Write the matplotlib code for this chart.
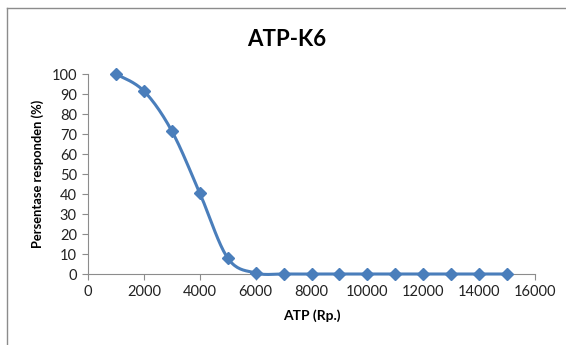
import numpy as np
import matplotlib.pyplot as plt
from matplotlib.lines import Line2D

plt.rcParams['font.family'] = ['Lato', 'DejaVu Sans']

# data
atp = [1000, 2000, 3000, 4000, 5000, 6000, 7000, 8000,
       9000, 10000, 11000, 12000, 13000, 14000, 15000]
persen = [100, 91.5, 71.5, 40.5, 8, 0.5, 0, 0, 0, 0, 0, 0, 0, 0, 0]
xticks = list(range(0, 16001, 2000))
yticks = list(range(0, 101, 10))

blue = '#4a7ebb'
grey = '#8c8c8c'


def smooth(x, y, n=20):
    # Excel-style smoothed line (Catmull-Rom)
    x = np.asarray(x, float)
    y = np.asarray(y, float)
    px = np.concatenate([[x[0]], x, [x[-1]]])
    py = np.concatenate([[y[0]], y, [y[-1]]])
    xs, ys = [], []
    t = np.linspace(0, 1, n, endpoint=False)
    for i in range(1, len(px) - 2):
        p0, p1, p2, p3 = [np.array([px[j], py[j]]) for j in (i - 1, i, i + 1, i + 2)]
        for tt in t:
            pt = 0.5 * ((2 * p1) + (-p0 + p2) * tt
                        + (2 * p0 - 5 * p1 + 4 * p2 - p3) * tt ** 2
                        + (-p0 + 3 * p1 - 3 * p2 + p3) * tt ** 3)
            xs.append(pt[0])
            ys.append(pt[1])
    xs.append(x[-1])
    ys.append(y[-1])
    return xs, ys


fig = plt.figure(figsize=(5.66, 3.45), dpi=100)
ax = fig.add_axes([88 / 566, 1 - 274 / 345, (535 - 88) / 566, (274 - 74) / 345])

sx, sy = smooth(atp, persen)
ax.plot(sx, sy, color=blue, lw=2.2, zorder=3, clip_on=False)
ax.plot(atp, persen, linestyle='none', marker='D', ms=6.5, color=blue,
        zorder=4, clip_on=False)

ax.set_xlim(0, 16000)
ax.set_ylim(0, 100)
ax.set_xticks(xticks)
ax.set_yticks(yticks)
ax.tick_params(labelsize=10.5, labelcolor='#222222', length=4, width=0.8,
               direction='out', pad=4, color=grey)
for s in ['top', 'right']:
    ax.spines[s].set_visible(False)
for s in ['left', 'bottom']:
    ax.spines[s].set_color(grey)
    ax.spines[s].set_linewidth(0.8)

ax.set_xlabel('ATP (Rp.)', fontsize=10, fontweight='bold', labelpad=7)
ax.set_ylabel('Persentase responden (%)', fontsize=9.3, fontweight='bold', labelpad=5)
fig.text(287 / 566, 1 - 40 / 345, 'ATP-K6', fontsize=16, fontweight='bold',
         ha='center', va='center')

# chart border (top and left)
fig.add_artist(Line2D([7 / 566, 7 / 566], [0, 1 - 8 / 345], transform=fig.transFigure,
                      color=grey, lw=1))
fig.add_artist(Line2D([7 / 566, 1], [1 - 8 / 345, 1 - 8 / 345], transform=fig.transFigure,
                      color=grey, lw=1))

fig.savefig('out.png', dpi=100)
